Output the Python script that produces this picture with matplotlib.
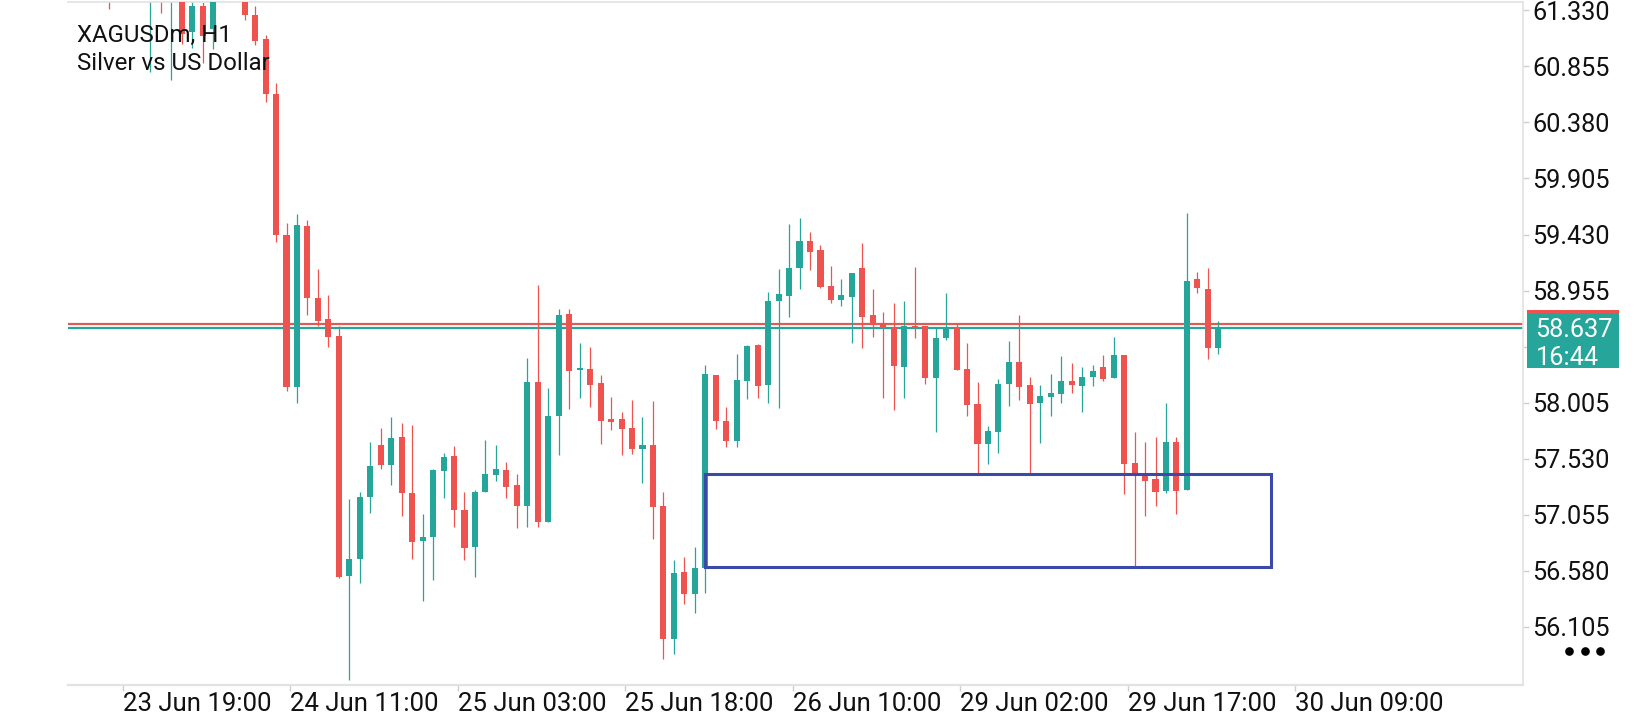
import matplotlib
matplotlib.use("Agg")
import matplotlib.pyplot as plt
import numpy as np
from matplotlib.patches import Rectangle
from matplotlib.lines import Line2D

# ---------------- data (XAGUSDm, H1 candles, left to right) ----------------
symbol_title = "XAGUSDm, H1"
symbol_desc = "Silver vs US Dollar"

opens = [61.60, 61.48, 61.62, 61.52, 61.45, 61.58, 61.44, 61.56, 61.150, 61.368,
         61.17, 61.45, 61.62, 61.50, 61.292, 61.088, 60.619, 59.424, 58.139, 59.502,
         58.894, 58.714, 58.572, 56.534, 56.675, 57.206, 57.645, 57.475, 57.712, 57.237,
         56.833, 56.867, 57.427, 57.552, 57.093, 56.782, 57.249, 57.390, 57.432, 57.305,
         57.130, 58.179, 56.994, 57.893, 58.758, 58.283, 58.290, 58.170, 57.865, 57.865,
         57.789, 57.613, 57.645, 57.127, 56.000, 56.568, 56.384, 56.602, 58.239, 57.851,
         57.681, 58.190, 58.493, 58.156, 58.868, 58.911, 59.149, 59.375, 59.299, 58.993,
         58.877, 58.902, 59.146, 58.747, 58.671, 58.640, 58.309, 58.654, 58.654, 58.215,
         58.555, 58.646, 58.289, 57.992, 57.656, 57.758, 58.165, 58.349, 58.151, 58.004,
         58.055, 58.080, 58.188, 58.148, 58.224, 58.306, 58.216, 58.408, 57.492, 57.390,
         57.356, 57.257, 57.670, 57.265, 59.050, 58.970, 58.465]
highs = [61.70, 61.68, 61.70, 61.58, 61.60, 61.62, 61.60, 61.60, 61.420, 61.400,
         61.50, 61.68, 61.66, 61.55, 61.370, 61.122, 60.712, 59.530, 59.604, 59.553,
         59.135, 58.917, 58.657, 57.187, 57.244, 57.670, 57.789, 57.882, 57.831, 57.814,
         57.059, 57.444, 57.579, 57.636, 57.246, 57.266, 57.687, 57.645, 57.500, 57.399,
         58.383, 59.002, 58.128, 58.798, 58.798, 58.507, 58.476, 58.238, 58.055, 57.925,
         58.026, 57.885, 58.018, 57.246, 56.669, 56.697, 56.781, 58.323, 58.239, 57.967,
         58.415, 58.495, 58.501, 58.942, 59.137, 59.522, 59.570, 59.451, 59.341, 59.163,
         59.053, 59.104, 59.361, 58.968, 58.773, 58.849, 58.866, 59.154, 58.654, 58.640,
         58.934, 58.669, 58.510, 58.179, 57.806, 58.204, 58.527, 58.747, 58.218, 58.151,
         58.247, 58.400, 58.340, 58.304, 58.323, 58.408, 58.561, 58.408, 57.755, 57.670,
         57.712, 58.000, 57.712, 59.615, 59.112, 59.148, 58.696]
lows = [61.343, 61.45, 61.46, 61.42, 60.81, 61.31, 60.74, 61.05, 61.010, 60.885,
        61.00, 61.43, 61.44, 61.25, 61.040, 60.556, 59.369, 58.105, 57.998, 58.747,
        58.657, 58.478, 56.519, 55.650, 56.472, 57.071, 57.444, 57.306, 57.045, 56.678,
        56.324, 56.500, 57.198, 56.952, 56.669, 56.528, 57.249, 57.342, 57.195, 56.943,
        56.952, 56.952, 56.994, 57.562, 57.948, 58.046, 57.970, 57.653, 57.772, 57.562,
        57.568, 57.325, 56.845, 55.827, 55.869, 56.294, 56.222, 56.387, 57.783, 57.630,
        57.630, 58.037, 58.046, 58.004, 57.961, 58.733, 58.965, 59.129, 58.976, 58.852,
        58.826, 58.512, 58.470, 58.563, 58.046, 57.939, 58.041, 58.555, 58.164, 57.758,
        58.538, 58.283, 57.893, 57.406, 57.481, 57.579, 57.978, 58.029, 57.406, 57.664,
        57.891, 58.004, 58.089, 57.927, 58.148, 58.190, 58.216, 57.229, 56.610, 57.045,
        57.130, 57.238, 57.063, 57.265, 58.930, 58.376, 58.420]
closes = [61.45, 61.62, 61.52, 61.44, 61.55, 61.45, 61.56, 61.13, 61.368, 61.116,
          61.45, 61.62, 61.50, 61.29, 61.074, 60.619, 59.426, 58.139, 59.510, 58.889,
          58.699, 58.563, 56.528, 56.678, 57.202, 57.467, 57.475, 57.704, 57.240, 56.824,
          56.864, 57.433, 57.543, 57.093, 56.774, 57.246, 57.399, 57.441, 57.291, 57.130,
          58.179, 56.994, 57.891, 58.747, 58.275, 58.292, 58.156, 57.851, 57.842, 57.783,
          57.613, 57.645, 57.121, 56.000, 56.560, 56.384, 56.602, 58.247, 57.851, 57.681,
          58.196, 58.484, 58.148, 58.866, 58.925, 59.146, 59.375, 59.284, 58.987, 58.877,
          58.917, 59.104, 58.733, 58.660, 58.635, 58.317, 58.654, 58.640, 58.215, 58.552,
          58.640, 58.283, 57.986, 57.656, 57.763, 58.162, 58.349, 58.139, 57.995, 58.061,
          58.086, 58.188, 58.156, 58.221, 58.272, 58.207, 58.408, 57.486, 57.407, 57.342,
          57.249, 57.670, 57.257, 59.036, 58.979, 58.465, 58.637]

ask_price = 58.675
bar_timer = "16:44"

y_tick_values = [61.330, 60.855, 60.380, 59.905, 59.430, 58.955, 58.480,
                 58.005, 57.530, 57.055, 56.580, 56.105]
x_tick_labels = ["23 Jun 19:00", "24 Jun 11:00", "25 Jun 03:00", "25 Jun 18:00",
                 "26 Jun 10:00", "29 Jun 02:00", "29 Jun 17:00", "30 Jun 09:00"]
x_tick_bars = [1, 17, 33, 49, 65, 81, 97, 113]

# zone rectangle (bar index span and price range)
zone_bars = [57, 111]
zone_prices = [56.610, 57.399]

# ---------------- style ----------------
RED = "#ef5350"
TEAL = "#26a69a"
RED_LINE = "#dd5c58"
BLUE = "#3b4aa8"
GRID = "#e2e2e2"
TXT = "#111111"
plt.rcParams["font.family"] = ["Roboto", "DejaVu Sans"]

W, H = 1640, 720
fig = plt.figure(figsize=(W / 100, H / 100), dpi=100)
fig.patch.set_facecolor("white")

ax_l, ax_r, ax_t, ax_b = 68, 1523, 2, 685
ax = fig.add_axes([ax_l / W, 1 - ax_b / H, (ax_r - ax_l) / W, (ax_b - ax_t) / H])
ax.set_facecolor("white")

o = np.array(opens); h = np.array(highs); l = np.array(lows); c = np.array(closes)
idx = np.arange(len(o))
up = c >= o
cols = np.where(up, TEAL, RED)

ax.axhline(ask_price, color=RED_LINE, lw=1.6, zorder=1)
ax.axhline(c[-1], color=TEAL, lw=1.6, zorder=1)

ax.vlines(idx, l, h, colors=cols, lw=0.9, zorder=2)
body = np.maximum(np.abs(c - o), 0.012)
ax.bar(idx, body, bottom=np.minimum(o, c), width=0.58, color=cols, linewidth=0, zorder=3)

ax.add_patch(Rectangle((zone_bars[0], zone_prices[0]), zone_bars[1] - zone_bars[0],
                       zone_prices[1] - zone_prices[0], fill=False, ec=BLUE, lw=2.2, zorder=4))

ax.set_xlim(-3.87, 135.1)
ax.set_ylim(55.609, 61.402)

# axes
ax.spines["left"].set_visible(False)
for s in ["top", "right", "bottom"]:
    ax.spines[s].set_color(GRID)
ax.spines["top"].set_linewidth(1.2)
ax.spines["right"].set_linewidth(1.2)
ax.spines["bottom"].set_linewidth(1.6)

# the 58.480 label sits under the live price box, so it is left blank
hidden_level = 58.480
ax.yaxis.tick_right()
ax.set_yticks(y_tick_values)
ax.set_yticklabels(["" if abs(v - hidden_level) < 1e-9 else f"{v:.3f}" for v in y_tick_values])
ax.tick_params(axis="y", which="both", right=True, left=False, length=4, width=1,
               color="#cfcfcf", labelsize=18.2, pad=2.5, labelcolor=TXT)

ax.set_xticks([b + 0.35 for b in x_tick_bars])
ax.set_xticklabels(x_tick_labels, ha="left")
ax.tick_params(axis="x", which="both", length=4, width=1, color="#cfcfcf",
               labelsize=18.5, pad=1.0, labelcolor=TXT)

# title (drawn on top of candles)
ax.text(76.7 / W, 1 - 42.3 / H, symbol_title, transform=fig.transFigure, fontsize=17.3,
        color=TXT, va="baseline", ha="left", zorder=10)
ax.text(76.7 / W, 1 - 70.0 / H, symbol_desc, transform=fig.transFigure, fontsize=17.3,
        color=TXT, va="baseline", ha="left", zorder=10)

# price label box on right axis
fig.canvas.draw()
yc = ax.transData.transform((0, c[-1]))[1]  # display px from bottom
bx0, bx1 = 1527, 1619
top = yc + 14.7
bot = yc - 40.0
fig.add_artist(Rectangle((bx0 / W, bot / H), (bx1 - bx0) / W, (top - bot) / H,
                         transform=fig.transFigure, color=TEAL, lw=0, zorder=5))
fig.add_artist(Rectangle((bx0 / W, top / H), (bx1 - bx0) / W, 3.3 / H,
                         transform=fig.transFigure, color=RED, lw=0, zorder=5))
fig.text(1535.5 / W, yc / H, f"{c[-1]:.3f}", color="white", fontsize=18.2,
         va="center_baseline", ha="left", zorder=6)
fig.text(1535.5 / W, (yc - 28) / H, bar_timer, color="white", fontsize=18.2,
         va="center_baseline", ha="left", zorder=6)

# three dots menu
fig.add_artist(Line2D(np.array([1569, 1585, 1600]) / W, [1 - 651 / H] * 3,
                      transform=fig.transFigure, ls="none", marker="o", ms=5.2,
                      color="black", zorder=6))

fig.savefig("out.png", dpi=100, facecolor="white")
